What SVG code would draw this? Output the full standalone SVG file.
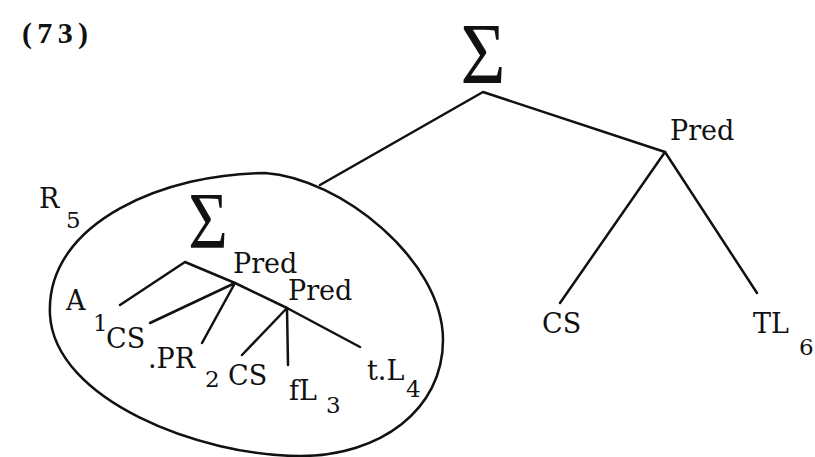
<svg xmlns="http://www.w3.org/2000/svg" width="815" height="457" viewBox="0 0 815 457">
<style>
.t{font-family:"DejaVu Serif","Liberation Serif",serif;font-size:27px;fill:#111}
.s{font-family:"DejaVu Serif","Liberation Serif",serif;font-size:23px;fill:#111}
.sig{font-family:"Liberation Serif","DejaVu Serif",serif;fill:#111}
.e{fill:none;stroke:#111;stroke-width:2.5;stroke-linecap:round;stroke-linejoin:round}
</style>
<rect width="815" height="457" fill="#fff"/>
<text x="22" y="43" font-family="Liberation Serif, serif" font-weight="bold" font-size="30" textLength="66" fill="#111">(73)</text>
<g id="connectors">
<path class="e" d="M320,185 L483,92 L665,152"/>
<path class="e" d="M665,152 L560,303 M665,152 L757,293"/>
<path class="e" d="M120,305 L185,262 L235,283 L287,308 L360,347"/>
<path class="e" d="M235,283 L150,323 M235,283 L202,343"/>
<path class="e" d="M287,308 L242,355 M287,308 L288,365"/>
</g>
<g id="R5">
<path class="e" d="M265,173 C340,178 443,260 443,340 C443,410 380,456 300,456 C200,456 55,400 50,315 C45,220 170,173 265,173 Z"/>
<text class="t" x="39" y="208">R</text><text class="s" x="66" y="228">5</text>
</g>
<g id="sigma-top"><text class="sig" x="483" y="83" font-size="86" text-anchor="middle" transform="translate(483,0) scale(0.9,1) translate(-483,0)">Σ</text></g>
<g id="pred-top"><text class="t" x="670" y="140">Pred</text></g>
<g id="cs-right"><text class="t" x="542" y="333">CS</text></g>
<g id="tl6"><text class="t" x="753" y="333">TL</text><text class="s" x="799" y="355">6</text></g>
<g id="sigma-inner"><text class="sig" x="208" y="248" font-size="80" text-anchor="middle" transform="translate(208,0) scale(0.85,1) translate(-208,0)">Σ</text></g>
<g id="pred1"><text class="t" x="233" y="273">Pred</text></g>
<g id="pred2"><text class="t" x="288" y="300">Pred</text></g>
<g id="a1"><text class="t" x="66" y="310">A</text><text class="s" x="93" y="331">1</text></g>
<g id="cs1"><text class="t" x="106" y="348">CS</text></g>
<g id="pr2"><text class="t" x="148" y="368">.PR</text><text class="s" x="205" y="387">2</text></g>
<g id="cs2"><text class="t" x="228" y="385">CS</text></g>
<g id="fl3"><text class="t" x="289" y="400">fL</text><text class="s" x="326" y="413">3</text></g>
<g id="tl4"><text class="t" x="367" y="380">t.L</text><text class="s" x="406" y="397">4</text></g>
</svg>
